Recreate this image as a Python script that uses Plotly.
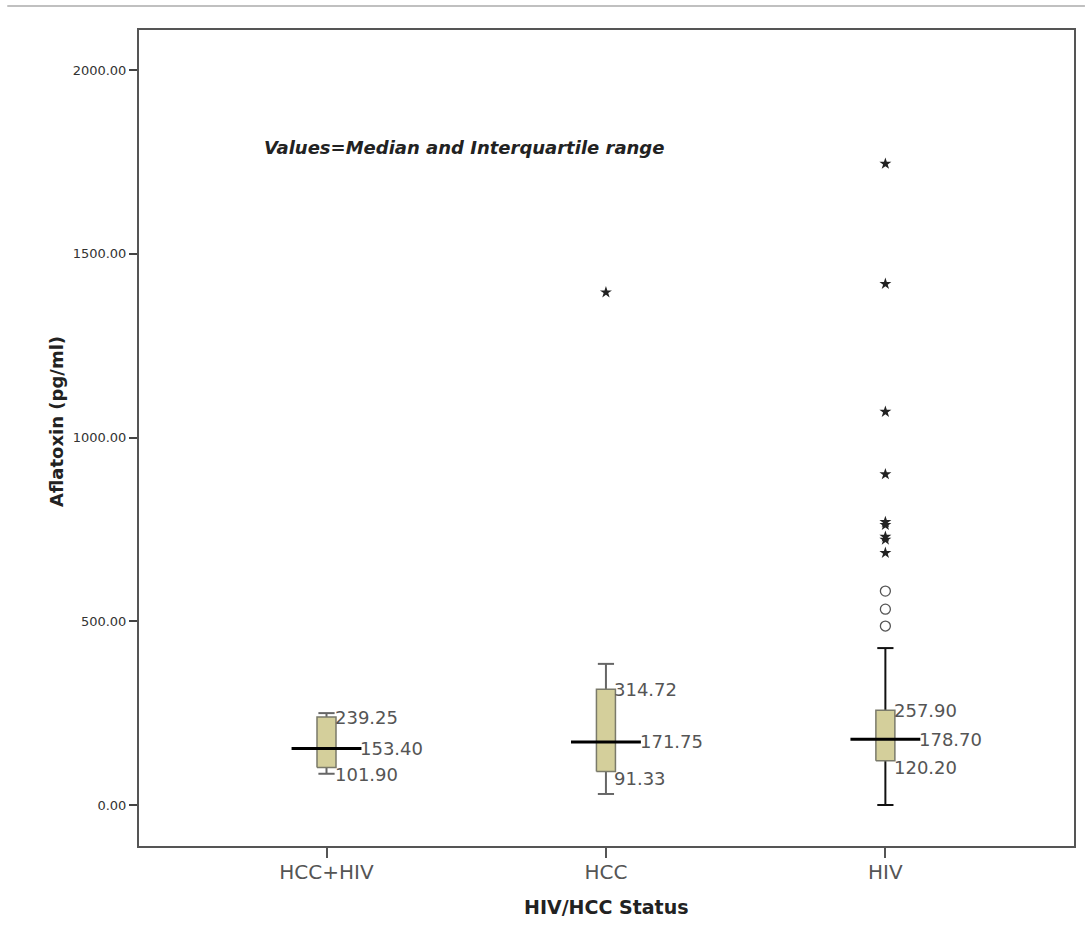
import plotly.graph_objects as go

# ---- data ----
categories = ["HCC+HIV", "HCC", "HIV"]
q1 = [101.90, 91.33, 120.20]
median = [153.40, 171.75, 178.70]
q3 = [239.25, 314.72, 257.90]
whisker_low = [85, 30, 0]
whisker_high = [250, 384, 427]
circle_outliers = {"HIV": [582, 533, 487]}
star_outliers = {"HCC": [1395], "HIV": [1745, 1418, 1070, 900, 770, 762, 730, 722, 686]}
y_ticks = [0, 500, 1000, 1500, 2000]

# ---- styling ----
BOX_HW = 0.034
MED_HW = 0.125
CAP_HW = 0.029
box_fill = "#D4CF9B"
box_edge = "#7a7a6a"
whisker_colors = ["#666666", "#666666", "#111111"]
label_color = "#555555"
FONT = "DejaVu Sans, Verdana, sans-serif"

fig = go.Figure()

for i, cat in enumerate(categories):
    x = i
    wc = whisker_colors[i]
    fig.add_trace(go.Scatter(
        x=[x, x, None, x, x, None, x - CAP_HW, x + CAP_HW, None, x - CAP_HW, x + CAP_HW],
        y=[whisker_low[i], q1[i], None, q3[i], whisker_high[i], None,
           whisker_low[i], whisker_low[i], None, whisker_high[i], whisker_high[i]],
        mode="lines", line=dict(color=wc, width=2), hoverinfo="skip", showlegend=False))
    fig.add_trace(go.Scatter(
        x=[x - BOX_HW, x + BOX_HW, x + BOX_HW, x - BOX_HW, x - BOX_HW],
        y=[q1[i], q1[i], q3[i], q3[i], q1[i]],
        mode="lines", fill="toself", fillcolor=box_fill,
        line=dict(color=box_edge, width=1.5), hoverinfo="skip", showlegend=False))
    fig.add_trace(go.Scatter(
        x=[x - MED_HW, x + MED_HW], y=[median[i], median[i]],
        mode="lines", line=dict(color="black", width=3), hoverinfo="skip", showlegend=False))
    if cat in circle_outliers:
        vals = circle_outliers[cat]
        fig.add_trace(go.Scatter(
            x=[x] * len(vals), y=vals, mode="markers",
            marker=dict(symbol="circle-open", size=10, color="#555555", line=dict(width=1.3)),
            showlegend=False))
    if cat in star_outliers:
        vals = star_outliers[cat]
        fig.add_trace(go.Scatter(
            x=[x] * len(vals), y=vals, mode="markers",
            marker=dict(symbol="star", size=9, color="#222222"),
            showlegend=False))
    fig.add_annotation(x=x + BOX_HW, y=q3[i], text=f"{q3[i]:.2f}", xanchor="left",
                       yanchor="middle", showarrow=False, xshift=-3,
                       font=dict(family=FONT, size=18, color=label_color))
    fig.add_annotation(x=x + MED_HW, y=median[i], text=f"{median[i]:.2f}", xanchor="left",
                       yanchor="middle", showarrow=False, xshift=-3,
                       font=dict(family=FONT, size=18, color=label_color))
    fig.add_annotation(x=x + BOX_HW, y=q1[i], text=f"{q1[i]:.2f}", xanchor="left",
                       yanchor="middle", showarrow=False, xshift=-3, yshift=-7,
                       font=dict(family=FONT, size=18, color=label_color))

fig.add_annotation(xref="paper", yref="paper", x=0.1313, y=0.8554,
                   text="<b><i>Values=Median and Interquartile range</i></b>",
                   xanchor="left", yanchor="middle", showarrow=False,
                   font=dict(family=FONT, size=18, color="#222222"))
fig.add_annotation(xref="paper", yref="paper", x=0.5, y=-0.0748,
                   text="<b>HIV/HCC Status</b>", xanchor="center", yanchor="middle",
                   showarrow=False, font=dict(family=FONT, size=19, color="#222222"))
fig.add_annotation(xref="paper", yref="paper", x=-0.0885, y=0.52,
                   text="<b>Aflatoxin (pg/ml)</b>", textangle=-90, xanchor="center",
                   yanchor="middle", showarrow=False,
                   font=dict(family=FONT, size=18, color="#222222"))

fig.add_shape(type="line", xref="paper", yref="paper", x0=-0.1409, x1=1.0117,
              y0=1.0294, y1=1.0294, line=dict(color="#c0c0c0", width=2))

fig.update_layout(
    width=1087, height=946,
    margin=dict(l=139, r=11, t=30, b=100),
    plot_bgcolor="white", paper_bgcolor="white",
    showlegend=False,
    xaxis=dict(range=[-0.671, 2.675], tickvals=list(range(len(categories))),
               ticktext=categories, showgrid=False, zeroline=False,
               showline=True, mirror=True, linecolor="#555555", linewidth=2,
               ticks="outside", ticklen=10, tickcolor="#555555", tickwidth=2,
               ticklabelstandoff=-3,
               tickfont=dict(family=FONT, size=20, color="#555555")),
    yaxis=dict(range=[-111.6, 2109], tickvals=y_ticks, tickformat=".2f",
               showgrid=False, zeroline=False,
               showline=True, mirror=True, linecolor="#555555", linewidth=2,
               ticks="outside", ticklen=8, tickcolor="#444444", tickwidth=2,
               tickfont=dict(family=FONT, size=13, color="#333333")),
)

fig.write_html("out.html", config={"displayModeBar": False},
               post_script="document.body.style.margin='0';document.body.style.overflow='hidden';")
